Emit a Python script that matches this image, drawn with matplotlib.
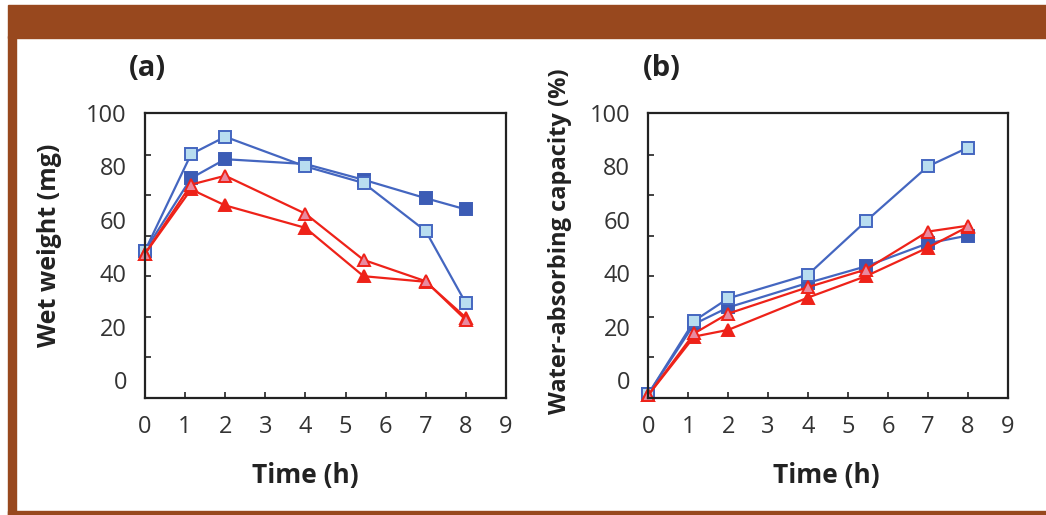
import matplotlib
matplotlib.use("Agg")
import matplotlib.pyplot as plt
import numpy as np
from matplotlib.patches import Rectangle

plt.rcParams['font.family'] = ['Open Sans', 'DejaVu Sans']

# sampling times (h)
time_h = [0, 1.15, 2, 4, 5.45, 7, 8]

# (a) wet weight (mg)
wet_open_sq = [48.4, 84.6, 91.1, 80.0, 73.8, 55.8, 28.8]
wet_fill_sq = [48.4, 75.6, 82.7, 80.9, 75.0, 68.1, 63.9]
wet_open_tri = [47.3, 73.2, 76.5, 62.3, 45.0, 37.0, 22.5]
wet_fill_tri = [47.3, 71.4, 65.4, 57.0, 38.9, 36.8, 23.4]

# (b) water-absorbing capacity (%)
cap_open_sq = [-5.2, 22.2, 30.6, 39.5, 59.5, 80.0, 87.0]
cap_fill_sq = [-5.2, 21.0, 27.2, 36.4, 42.6, 51.2, 54.1]
cap_open_tri = [-5.6, 17.5, 24.9, 34.8, 41.4, 55.6, 57.8]
cap_fill_tri = [-5.6, 16.3, 18.8, 30.9, 38.9, 49.6, 57.4]

y_labels = [0, 20, 40, 60, 80, 100]
x_labels = list(range(10))

BROWN = '#98481e'
BLUE = '#4466c0'
BLUE_FILL = '#3c5cb5'
LIGHT = '#b8ddf0'
RED = '#ee2219'
PINK = '#e98aa0'


def draw_panel(ax, open_sq, fill_sq, open_tri, fill_tri):
    kw = dict(lw=1.6, ms=8.5, mew=1.4)
    ax.plot(time_h, fill_sq, color=BLUE, marker='s', mfc=BLUE_FILL, mec=BLUE_FILL, **kw)
    ax.plot(time_h, open_sq, color=BLUE, marker='s', mfc=LIGHT, mec=BLUE, **kw)
    ax.plot(time_h, fill_tri, color=RED, marker='^', mfc=RED, mec=RED, **kw)
    ax.plot(time_h, open_tri, color=RED, marker='^', mfc=PINK, mec=RED, **kw)

    ylo, yhi = -6.7, 99.5
    ax.set_xlim(0, 9)
    ax.set_ylim(ylo, yhi)
    ax.set_xticks(x_labels)
    ax.set_xticklabels([str(v) for v in x_labels])
    ax.set_yticks(y_labels)
    ax.set_yticklabels([str(v) for v in y_labels])
    ax.set_yticks(np.linspace(ylo, yhi, 8)[1:-1], minor=True)
    ax.tick_params(axis='x', direction='in', length=4, width=1.2, pad=12,
                   labelsize=17, colors='#222222', labelcolor='#333333')
    ax.tick_params(axis='y', which='major', length=0, pad=13, labelsize=17,
                   labelcolor='#333333')
    ax.tick_params(axis='y', which='minor', direction='in', length=4, width=1.2,
                   colors='#222222')
    for s in ax.spines.values():
        s.set_linewidth(1.6)
        s.set_color('#222222')
    for ln in ax.lines:
        ln.set_clip_on(False)


fig = plt.figure(figsize=(10.46, 5.15), dpi=100)

# brown frame
fig.patches.append(Rectangle((0.0076, 0.926), 0.9924, 0.064, transform=fig.transFigure,
                             color=BROWN, zorder=0))
fig.patches.append(Rectangle((0.0076, 0.0), 0.0077, 0.93, transform=fig.transFigure,
                             color=BROWN, zorder=0))
fig.patches.append(Rectangle((0.0076, 0.0), 0.9924, 0.0075, transform=fig.transFigure,
                             color=BROWN, zorder=0))

ax1 = fig.add_axes([0.1386, 0.2272, 0.3451, 0.5534])
ax2 = fig.add_axes([0.6198, 0.2272, 0.3436, 0.5534])

draw_panel(ax1, wet_open_sq, wet_fill_sq, wet_open_tri, wet_fill_tri)
draw_panel(ax2, cap_open_sq, cap_fill_sq, cap_open_tri, cap_fill_tri)

fig.text(147 / 1046, 1 - 69 / 515, '(a)', fontsize=21, fontweight='bold',
         ha='center', va='center', color='#222222')
fig.text(662 / 1046, 1 - 69 / 515, '(b)', fontsize=21, fontweight='bold',
         ha='center', va='center', color='#222222')

fig.text(305 / 1046, 1 - 475 / 515, 'Time (h)', fontsize=19, fontweight='bold',
         ha='center', va='center', color='#222222')
fig.text(826 / 1046, 1 - 475 / 515, 'Time (h)', fontsize=19, fontweight='bold',
         ha='center', va='center', color='#222222')

fig.text(50 / 1046, 1 - 245 / 515, 'Wet weight (mg)', fontsize=18, fontweight='bold',
         rotation=90, ha='center', va='center', color='#222222')
fig.text(560 / 1046, 1 - 241 / 515, 'Water-absorbing capacity (%)', fontsize=17,
         fontweight='bold', rotation=90, ha='center', va='center', color='#222222')

fig.savefig('out.png', dpi=100)
